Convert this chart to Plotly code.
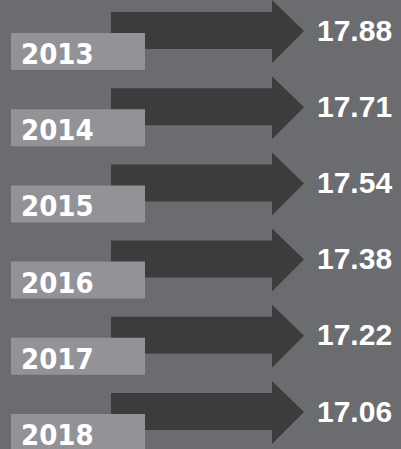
import plotly.graph_objects as go

# Data
years = ["2013", "2014", "2015", "2016", "2017", "2018"]
values = [17.88, 17.71, 17.54, 17.38, 17.22, 17.06]

W, H = 401, 449
BG = "#6b6c70"
ARROW = "#3c3c3c"
BOX = "#939397"
FONT_YEAR = "DejaVu Sans Condensed, DejaVu Sans, sans-serif"
FONT_VAL = "Liberation Sans, Arial, sans-serif"

STEP = 76.2
TOP0 = 12

fig = go.Figure()
shapes = []
annotations = []

for i, (yr, val) in enumerate(zip(years, values)):
    t = TOP0 + STEP * i
    # arrow polygon
    xs = [111, 272, 272, 304, 272, 272, 111, 111]
    ys = [t, t, t - 12, t + 19, t + 51, t + 37, t + 37, t]
    fig.add_trace(go.Scatter(x=xs, y=ys, mode="lines", fill="toself",
                             fillcolor=ARROW, line=dict(width=0, color=ARROW),
                             hoverinfo="skip", showlegend=False))
    shapes.append(dict(type="rect", xref="x", yref="y", x0=11, x1=145,
                       y0=t + 21, y1=t + 58, fillcolor=BOX, line=dict(width=0),
                       layer="above"))
    annotations.append(dict(x=19, y=t + 42, xref="x", yref="y", text=f"<b>{yr}</b>",
                            showarrow=False, xanchor="left", yanchor="middle",
                            font=dict(family=FONT_YEAR, size=29, color="white")))
    annotations.append(dict(x=315, y=t + 18, xref="x", yref="y", text=f"<b>{val:.2f}</b>",
                            showarrow=False, xanchor="left", yanchor="middle",
                            font=dict(family=FONT_VAL, size=30, color="white")))

fig.update_layout(
    width=W, height=H,
    margin=dict(l=0, r=0, t=0, b=0),
    paper_bgcolor=BG, plot_bgcolor=BG,
    xaxis=dict(range=[0, W], visible=False, fixedrange=True),
    yaxis=dict(range=[H, 0], visible=False, fixedrange=True),
    shapes=shapes, annotations=annotations,
    showlegend=False,
)

fig.write_html("out.html", config={"displayModeBar": False},
               post_script="document.body.style.margin='0';document.body.style.overflow='hidden';")
